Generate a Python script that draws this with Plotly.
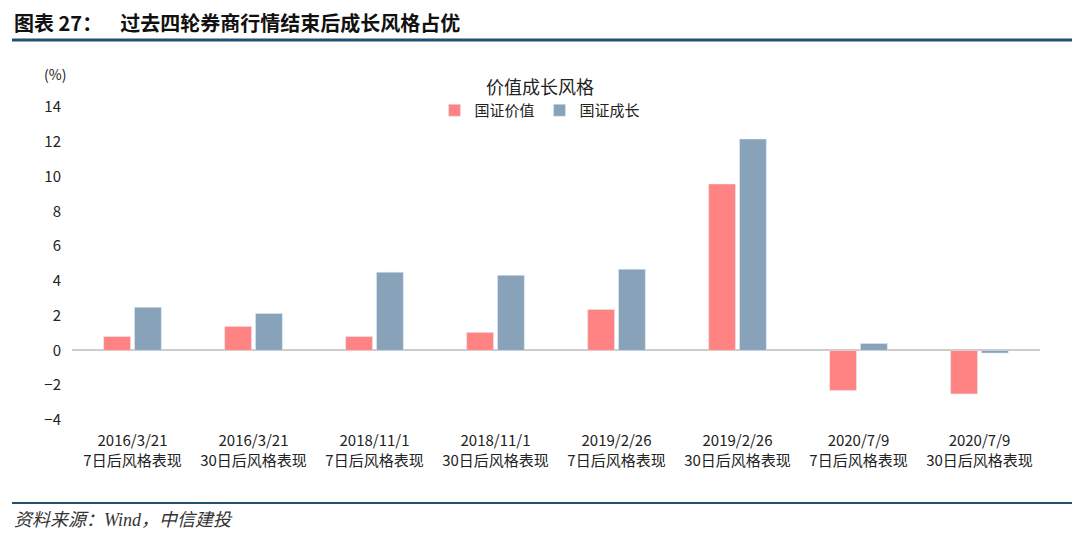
import plotly.graph_objects as go

categories = ["2016/3/21<br>7日后风格表现", "2016/3/21<br>30日后风格表现",
              "2018/11/1<br>7日后风格表现", "2018/11/1<br>30日后风格表现",
              "2019/2/26<br>7日后风格表现", "2019/2/26<br>30日后风格表现",
              "2020/7/9<br>7日后风格表现", "2020/7/9<br>30日后风格表现"]
value_series = [0.80, 1.38, 0.80, 1.04, 2.36, 9.57, -2.30, -2.50]
growth_series = [2.48, 2.13, 4.50, 4.32, 4.67, 12.16, 0.40, -0.15]
y_ticks = [-4, -2, 0, 2, 4, 6, 8, 10, 12, 14]

FONT = "Noto Sans CJK SC"
PW, PH = 968, 313


def xp(px):
    return (px - 72) / PW


def yp(py):
    return 1 - (py - 107) / PH


fig = go.Figure()
fig.add_trace(go.Bar(name="国证价值", x=categories, y=value_series, marker_color="#FF8383"))
fig.add_trace(go.Bar(name="国证成长", x=categories, y=growth_series, marker_color="#88A3B9"))

fig.update_layout(
    width=1080, height=538,
    paper_bgcolor="white", plot_bgcolor="white",
    margin=dict(l=64, r=48, t=99, b=126),
    barmode="group", bargap=0.49, bargroupgap=0.13,
    font=dict(family=FONT, size=15, color="#222"),
    showlegend=True,
    legend=dict(orientation="h", x=xp(540), xanchor="center", y=yp(94), yanchor="top",
                font=dict(size=15, color="#222"), tracegroupgap=0, bgcolor="rgba(0,0,0,0)"),
    xaxis=dict(showgrid=False, showline=False, ticks="", tickfont=dict(size=15, color="#222"),
               automargin=False, ticklabelstandoff=10),
    yaxis=dict(range=[-4, 14], tickvals=y_ticks, showgrid=False, zeroline=True,
               zerolinecolor="#cccccc", zerolinewidth=1.5, showline=False,
               tickfont=dict(size=15, color="#222"), ticklabelstandoff=10, automargin=False),
)

# header
fig.add_annotation(text="<b>图表 27：    过去四轮券商行情结束后成长风格占优</b>", xref="paper", yref="paper",
                   x=xp(12), y=yp(22), xanchor="left", yanchor="middle",
                   showarrow=False, font=dict(family=FONT, size=20, color="#111"))
fig.add_shape(type="line", xref="paper", yref="paper", x0=xp(12), x1=xp(1072),
              y0=yp(40), y1=yp(40), line=dict(color="#24506f", width=3))
# chart title
fig.add_annotation(text="价值成长风格", xref="paper", yref="paper", x=xp(540),
                   y=yp(86), xanchor="center", yanchor="middle", showarrow=False,
                   font=dict(family=FONT, size=18, color="#222"))
fig.add_annotation(text="(%)", xref="paper", yref="paper", x=xp(55),
                   y=yp(74), xanchor="center", yanchor="middle", showarrow=False,
                   font=dict(family=FONT, size=14, color="#222"))
# footer
fig.add_shape(type="line", xref="paper", yref="paper", x0=xp(12), x1=xp(1072),
              y0=yp(503), y1=yp(503), line=dict(color="#24506f", width=2))
fig.add_annotation(text="<i>资料来源：Wind，中信建投</i>", xref="paper", yref="paper",
                   x=xp(12), y=yp(520), xanchor="left", yanchor="middle", showarrow=False,
                   font=dict(family="Liberation Serif, Noto Sans CJK SC", size=18, color="#333"))

fig.write_html("out.html")
